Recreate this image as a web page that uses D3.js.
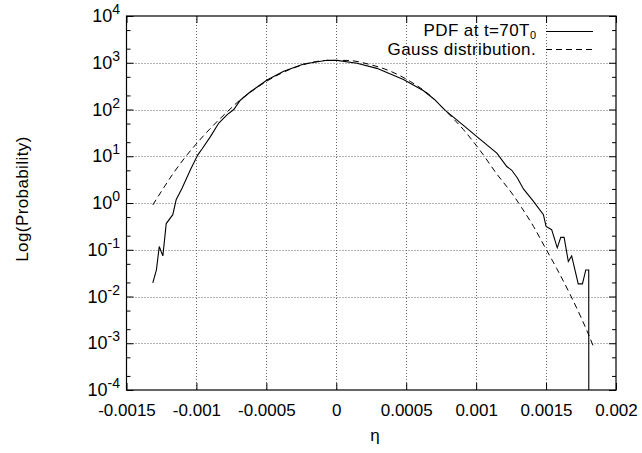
<!DOCTYPE html>
<html>
<head>
<meta charset="utf-8">
<script src="https://cdn.jsdelivr.net/npm/d3@7/dist/d3.min.js"></script>
<style>
  html, body { margin: 0; padding: 0; background: #fff; }
  svg { display: block; }
  text { font-family: "Liberation Sans", Arial, Helvetica, sans-serif; fill: #000; }
</style>
</head>
<body>
<svg id="chart" width="642" height="453"></svg>
<script>
// ---- data ----
const xTicks = [-0.0015, -0.001, -0.0005, 0, 0.0005, 0.001, 0.0015, 0.002];
const xTickLabels = ["-0.0015", "-0.001", "-0.0005", "0", "0.0005", "0.001", "0.0015", "0.002"];
const yExponents = [-4, -3, -2, -1, 0, 1, 2, 3, 4];
const yMinorFactors = [2, 5];

const pdfEta = [-0.001312, -0.001286, -0.001266, -0.00124, -0.001216, -0.001169, -0.001145, -0.001102,
  -0.001043, -0.00099, -0.00096, -0.0009, -0.00084, -0.00078, -0.000733, -0.000686, -0.000614,
  -0.000495, -0.000376, -0.000233, -0.000066, 0.000005, 0.000148, 0.00029, 0.00048, 0.000624,
  0.0007, 0.000779, 0.000909, 0.001029, 0.001148, 0.001219, 0.001255, 0.001295, 0.001338,
  0.00141, 0.001481, 0.0015, 0.00154, 0.00158, 0.001605, 0.001629, 0.001659, 0.001683,
  0.00173, 0.00176, 0.001784, 0.001805, 0.001806];
const pdfProb = [0.0195, 0.037, 0.117, 0.074, 0.363, 0.562, 1.17, 2.09,
  5.13, 10.7, 14.3, 26.3, 51.3, 77.6, 100, 158, 240,
  427, 661, 944, 1135, 1122, 977, 759, 437, 251,
  166, 95.5, 45.7, 22.9, 11.7, 6.03, 5.01, 3.43, 2.0,
  1.08, 0.562, 0.316, 0.269, 0.11, 0.184, 0.184, 0.056, 0.074,
  0.0186, 0.0186, 0.037, 0.037, 1e-7];

const gaussEta = [-0.001312, -0.001233, -0.001162, -0.001067, -0.00097, -0.000876, -0.00078,
  -0.000686, -0.000614, -0.000495, -0.000376, -0.000233, -0.000066, 0.000076, 0.000243,
  0.000386, 0.000529, 0.000671, 0.000779, 0.000909, 0.001029, 0.001148, 0.001267, 0.001326,
  0.00141, 0.001493, 0.001576, 0.001671, 0.001755, 0.001802, 0.001843];
const gaussProb = [0.91, 2.14, 4.47, 10.7, 23.4, 46.8, 89.1,
  162, 234, 407, 631, 912, 1122, 1122, 912,
  661, 398, 200, 95.5, 37.2, 13.2, 4.17, 1.45, 0.79,
  0.316, 0.112, 0.0398, 0.0112, 0.00331, 0.00158, 0.00079];

const legendLabels = ["PDF at t=70T", "Gauss distribution."];
const legendSub = "0";
const xLabel = "η";
const yLabel = "Log(Probability)";

// ---- drawing ----
const svg = d3.select("#chart");
const L = 126.5, R = 616, T = 16, B = 390;
const x = d3.scaleLinear().domain([-0.0015, 0.002]).range([L, R]);
const y = d3.scaleLog().domain([1e-4, 1e4]).range([B, T]);

svg.append("rect").attr("width", 642).attr("height", 453).attr("fill", "#fff");

svg.append("defs").append("clipPath").attr("id", "clip")
  .append("rect").attr("x", L).attr("y", T).attr("width", R - L).attr("height", B - T);

// grid
const grid = svg.append("g").attr("stroke", "#666").attr("stroke-width", 1)
  .attr("stroke-dasharray", "1,2").attr("fill", "none");
xTicks.slice(1, -1).forEach(t => {
  grid.append("line").attr("x1", Math.round(x(t)) + 0.5).attr("x2", Math.round(x(t)) + 0.5)
    .attr("y1", T).attr("y2", B);
});
yExponents.slice(1, -1).forEach(e => {
  grid.append("line").attr("y1", Math.round(y(Math.pow(10, e))) + 0.5).attr("y2", Math.round(y(Math.pow(10, e))) + 0.5)
    .attr("x1", L).attr("x2", R);
});

// axes via d3 axis generators (ticks inward)
const xAxisB = d3.axisBottom(x).tickValues(xTicks).tickSizeInner(-7).tickSizeOuter(0)
  .tickFormat((d, i) => xTickLabels[i]).tickPadding(0);
const gxb = svg.append("g").attr("transform", `translate(0,${B})`).call(xAxisB);
gxb.select(".domain").remove();
gxb.selectAll("text").attr("font-size", 17).attr("font-family", "Liberation Sans, Arial, sans-serif")
  .attr("dy", null).attr("y", 26);

const xAxisT = d3.axisTop(x).tickValues(xTicks).tickSizeInner(-7).tickSizeOuter(0).tickFormat("");
const gxt = svg.append("g").attr("transform", `translate(0,${T})`).call(xAxisT);
gxt.select(".domain").remove();

const majorVals = yExponents.map(e => Math.pow(10, e));
const minorVals = [];
yExponents.slice(0, -1).forEach(e => yMinorFactors.forEach(f => minorVals.push(f * Math.pow(10, e))));

function yAxisPart(gen, vals, size, tx) {
  const g = svg.append("g").attr("transform", `translate(${tx},0)`)
    .call(gen(y).tickValues(vals).tickSizeInner(-size).tickSizeOuter(0).tickFormat(""));
  g.select(".domain").remove();
}
yAxisPart(d3.axisLeft, majorVals, 7, L);
yAxisPart(d3.axisLeft, minorVals, 4, L);
yAxisPart(d3.axisRight, majorVals, 7, R);
yAxisPart(d3.axisRight, minorVals, 4, R);
svg.selectAll(".tick line").attr("stroke", "#000");

// y tick labels 10^e
yExponents.forEach(e => {
  const t = svg.append("text").attr("x", 100).attr("y", y(Math.pow(10, e)) + 6)
    .attr("font-size", 18).attr("text-anchor", "start");
  t.append("tspan").text("10");
  t.append("tspan").attr("dy", -8).attr("font-size", 14).text(String(e));
  const w = t.node().getComputedTextLength();
  t.attr("x", 120 - w);
});

// border
svg.append("rect").attr("x", L).attr("y", T).attr("width", R - L).attr("height", B - T)
  .attr("fill", "none").attr("stroke", "#000").attr("stroke-width", 1.2);

// curves
const plot = svg.append("g").attr("clip-path", "url(#clip)");
const pdfData = pdfEta.map((e, i) => [e, pdfProb[i]]);
const gaussData = gaussEta.map((e, i) => [e, gaussProb[i]]);
const lineLin = d3.line().x(d => x(d[0])).y(d => y(d[1]));
const lineG = d3.line().x(d => x(d[0])).y(d => y(d[1])).curve(d3.curveMonotoneX);

plot.append("path").datum(gaussData).attr("d", lineG).attr("fill", "none")
  .attr("stroke", "#000").attr("stroke-width", 1).attr("stroke-dasharray", "6,4");
plot.append("path").datum(pdfData).attr("d", lineLin).attr("fill", "none")
  .attr("stroke", "#000").attr("stroke-width", 1.1);

// legend
const lg = svg.append("g");
const t1 = lg.append("text").attr("x", 536).attr("y", 36).attr("font-size", 17)
  .attr("text-anchor", "end");
t1.append("tspan").attr("letter-spacing", 0.4).text(legendLabels[0]);
t1.append("tspan").attr("dy", 2.5).attr("font-size", 11).text(legendSub);
lg.append("line").attr("x1", 546).attr("x2", 593).attr("y1", 31.5).attr("y2", 31.5)
  .attr("stroke", "#000").attr("stroke-width", 1.1);
lg.append("text").attr("x", 536).attr("y", 55).attr("font-size", 17).attr("letter-spacing", 0.4)
  .attr("text-anchor", "end").text(legendLabels[1]);
lg.append("line").attr("x1", 546).attr("x2", 593).attr("y1", 49.5).attr("y2", 49.5)
  .attr("stroke", "#000").attr("stroke-width", 1).attr("stroke-dasharray", "6,4");

// axis labels
svg.append("text").attr("x", 375).attr("y", 441).attr("font-size", 17)
  .attr("text-anchor", "middle").text(xLabel);
svg.append("text").attr("transform", "translate(28,199) rotate(-90)").attr("font-size", 17)
  .attr("letter-spacing", 0.4).attr("text-anchor", "middle").text(yLabel);
</script>
</body>
</html>
